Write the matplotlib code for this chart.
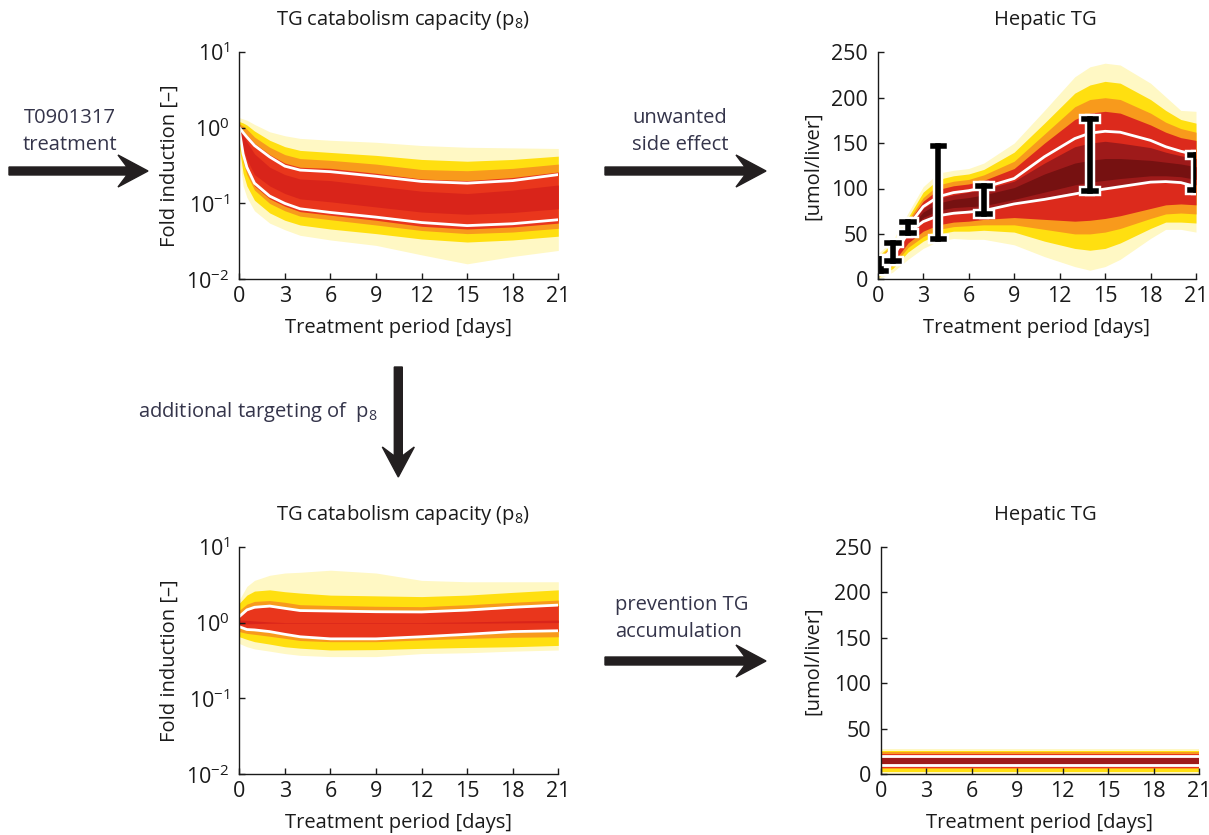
import matplotlib
matplotlib.use("Agg")
import matplotlib.pyplot as plt
from matplotlib.patches import FancyArrow
from matplotlib.ticker import NullLocator

plt.rcParams['font.family'] = ['Open Sans', 'DejaVu Sans']
plt.rcParams['mathtext.fontset'] = 'custom'
plt.rcParams['mathtext.rm'] = 'Open Sans'
plt.rcParams['mathtext.it'] = 'Open Sans'
plt.rcParams['mathtext.bf'] = 'Open Sans'

# ---------------- data ----------------
x_ticks = [0, 3, 6, 9, 12, 15, 18, 21]
log_ticks = [1e-2, 1e-1, 1e0, 1e1]
lin_ticks = [0, 50, 100, 150, 200, 250]

# Top-left: TG catabolism capacity (p8), T0901317 treatment (fold induction)
tl_t = [0, 0.25, 0.5, 1, 2, 3, 4, 6, 9, 12, 15, 18, 21]
tl_outer_hi = [1.35, 1.3, 1.25, 1.1, 0.88, 0.78, 0.72, 0.68, 0.64, 0.58, 0.55, 0.54, 0.53]
tl_yel_hi = [1.2, 1.15, 1.08, 0.9, 0.68, 0.56, 0.5, 0.47, 0.43, 0.38, 0.36, 0.38, 0.42]
tl_org_hi = [1.12, 1.05, 0.95, 0.75, 0.55, 0.44, 0.39, 0.37, 0.33, 0.28, 0.27, 0.29, 0.33]
tl_red_hi = [1.0, 0.9, 0.8, 0.62, 0.44, 0.34, 0.3, 0.29, 0.25, 0.21, 0.2, 0.22, 0.26]
tl_core_hi = [1.0, 0.8, 0.65, 0.45, 0.3, 0.24, 0.21, 0.2, 0.17, 0.145, 0.135, 0.15, 0.175]
tl_core_lo = [0.9, 0.55, 0.38, 0.24, 0.17, 0.135, 0.115, 0.105, 0.09, 0.077, 0.072, 0.076, 0.085]
tl_red_lo = [0.88, 0.4, 0.27, 0.17, 0.115, 0.092, 0.078, 0.07, 0.06, 0.05, 0.046, 0.049, 0.055]
tl_org_lo = [0.7, 0.35, 0.24, 0.15, 0.1, 0.08, 0.068, 0.061, 0.052, 0.044, 0.04, 0.042, 0.047]
tl_yel_lo = [0.55, 0.25, 0.17, 0.11, 0.075, 0.06, 0.052, 0.046, 0.04, 0.034, 0.031, 0.033, 0.037]
tl_outer_lo = [0.42, 0.17, 0.12, 0.08, 0.055, 0.045, 0.038, 0.033, 0.028, 0.021, 0.016, 0.02, 0.024]
tl_white_hi = [1.0, 0.86, 0.75, 0.58, 0.41, 0.31, 0.275, 0.262, 0.228, 0.195, 0.185, 0.2, 0.24]
tl_white_lo = [0.92, 0.45, 0.3, 0.185, 0.125, 0.1, 0.085, 0.076, 0.066, 0.056, 0.051, 0.054, 0.061]

# Top-right: Hepatic TG under T0901317 (umol/liver)
tr_t = [0, 1, 2, 3, 4, 5, 6, 7, 9, 11, 13, 14, 15, 16, 18, 19, 20, 21]
tr_outer_hi = [28, 43, 73, 102, 117, 120, 122, 128, 150, 186, 223, 234, 238, 236, 216, 201, 186, 185]
tr_yel_hi = [25, 40, 68, 96, 110, 114, 116, 121, 140, 172, 205, 214, 218, 216, 198, 186, 176, 172]
tr_org_hi = [23, 38, 65, 90, 104, 108, 110, 115, 130, 160, 190, 198, 200, 198, 183, 173, 166, 162]
tr_red_hi = [21, 36, 62, 86, 99, 103, 105, 109, 122, 150, 176, 183, 185, 183, 170, 162, 156, 153]
tr_core_hi = [15, 32, 56, 78, 89, 93, 96, 99, 108, 128, 146, 150, 152, 150, 145, 140, 136, 133]
tr_deep_hi = [13, 30, 55, 74, 84, 88, 90, 93, 101, 116, 128, 131, 133, 133, 131, 129, 127, 124]
tr_deep_lo = [11, 28, 52, 68, 76, 79, 80, 81, 88, 96, 104, 107, 109, 111, 114, 114, 113, 110]
tr_core_lo = [10, 26, 50, 65, 72, 75, 76, 77, 84, 90, 96, 99, 101, 103, 108, 109, 108, 104]
tr_red_lo = [6, 18, 40, 53, 60, 63, 64, 66, 68, 66, 64, 65, 67, 70, 78, 82, 83, 82]
tr_org_lo = [4, 15, 35, 47, 55, 58, 59, 60, 60, 55, 50, 50, 52, 56, 67, 72, 73, 72]
tr_yel_lo = [2, 12, 30, 42, 50, 53, 53, 54, 52, 42, 34, 32, 34, 40, 56, 63, 63, 62]
tr_outer_lo = [0, 8, 22, 34, 42, 45, 44, 44, 38, 25, 14, 10, 14, 22, 45, 55, 55, 52]
tr_white_hi = [17, 34, 58, 80, 91, 95.5, 97.6, 101, 111, 135, 155, 161, 163, 162, 153, 146, 141, 137]
tr_white_lo = [9, 25, 51, 63.5, 70, 72.7, 74, 75.6, 83, 88, 94, 97, 99.5, 102, 107, 107.6, 106.5, 102]

# measured hepatic TG (error bars)
eb_t = [0.2, 1, 2, 4, 7, 14, 21]
eb_lo = [9.5, 20.5, 51, 44, 72, 97.6, 98]
eb_hi = [22, 39.6, 63, 147, 103, 176.6, 137]

# Bottom-left: p8 with additional targeting
bl_t = [0, 0.5, 1, 2, 3, 4, 6, 9, 12, 15, 18, 21]
bl_outer_hi = [2.0, 3.0, 3.6, 4.2, 4.5, 4.6, 4.9, 4.5, 3.6, 3.45, 3.45, 3.45]
bl_yel_hi = [1.8, 2.3, 2.6, 2.7, 2.55, 2.45, 2.3, 2.25, 2.2, 2.3, 2.5, 2.7]
bl_org_hi = [1.45, 1.75, 1.9, 1.95, 1.85, 1.72, 1.68, 1.64, 1.62, 1.72, 1.85, 1.98]
bl_red_hi = [1.2, 1.45, 1.57, 1.62, 1.52, 1.43, 1.41, 1.38, 1.37, 1.44, 1.57, 1.68]
bl_core_hi = [1.08, 1.07, 1.05, 1.02, 1.0, 1.0, 1.0, 1.0, 1.0, 1.02, 1.05, 1.08]
bl_core_lo = [0.95, 0.96, 0.97, 0.98, 0.98, 0.98, 0.98, 0.98, 0.98, 0.98, 0.99, 1.0]
bl_red_lo = [0.86, 0.8, 0.79, 0.75, 0.69, 0.64, 0.6, 0.6, 0.64, 0.69, 0.75, 0.77]
bl_org_lo = [0.76, 0.72, 0.7, 0.66, 0.62, 0.58, 0.56, 0.56, 0.59, 0.62, 0.64, 0.65]
bl_yel_lo = [0.65, 0.6, 0.56, 0.52, 0.48, 0.46, 0.435, 0.44, 0.457, 0.47, 0.48, 0.5]
bl_outer_lo = [0.53, 0.48, 0.45, 0.42, 0.39, 0.37, 0.356, 0.356, 0.39, 0.4, 0.42, 0.435]
bl_white_hi = [1.2, 1.47, 1.59, 1.65, 1.54, 1.44, 1.42, 1.39, 1.38, 1.46, 1.59, 1.70]
bl_white_lo = [0.88, 0.81, 0.80, 0.76, 0.70, 0.65, 0.61, 0.61, 0.65, 0.70, 0.76, 0.78]

# Bottom-right: Hepatic TG with additional targeting (constant)
br_t = [0, 21]
br_outer_hi = [27.5, 27.5]
br_yel_hi = [26, 26]
br_org_hi = [24.2, 24.2]
br_red_hi = [22.4, 22.4]
br_core_hi = [17.8, 17.8]
br_core_lo = [11, 11]
br_red_lo = [7.3, 7.3]
br_org_lo = [5.5, 5.5]
br_yel_lo = [2.9, 2.9]
br_outer_lo = [0.7, 0.7]
br_white_hi = [19.6, 19.6]
br_white_lo = [10.1, 10.1]

# ---------------- styling ----------------
C_PALE = '#fff8c4'
C_YEL = '#ffdf10'
C_ORG = '#f89a1c'
C_RED = '#e9361c'
C_CORE_L = '#d9241a'
C_CORE_D = '#9e1a1a'
C_DEEP = '#761111'
TXT = '#34344a'
INK = '#1a1a1a'
FS = 14.5
TFS = 15.5

W, H = 1209, 835
fig = plt.figure(figsize=(W / 100, H / 100), dpi=100)


def ax_at(x0, x1, ytop, ybot):
    return fig.add_axes([x0 / W, 1 - ybot / H, (x1 - x0) / W, (ybot - ytop) / H])


def style(ax, log):
    ax.spines['top'].set_visible(False)
    ax.spines['right'].set_visible(False)
    for s in ('left', 'bottom'):
        ax.spines[s].set_linewidth(1.0)
        ax.spines[s].set_color(INK)
    ax.set_xlim(0, 21)
    ax.set_xticks(x_ticks)
    ax.set_xticklabels([str(v) for v in x_ticks])
    if log:
        ax.set_yscale('log')
        ax.set_ylim(1e-2, 1e1)
        ax.set_yticks(log_ticks)
        ax.set_yticklabels([r'$10^{-2}$', r'$10^{-1}$', r'$10^{0}$', r'$10^{1}$'])
        ax.yaxis.set_minor_locator(NullLocator())
    else:
        ax.set_ylim(0, 250)
        ax.set_yticks(lin_ticks)
        ax.set_yticklabels([str(v) for v in lin_ticks])
    ax.tick_params(direction='in', length=4, width=1.0, labelsize=TFS, colors=INK)
    ax.tick_params(axis='x', pad=5)
    ax.tick_params(axis='y', pad=7)
    ax.set_xlabel('Treatment period [days]', fontsize=FS, color=INK)
    ax.xaxis.label.set_va('center')


def bands(ax, t, levels, whites):
    for lo, hi, c in levels:
        ax.fill_between(t, lo, hi, color=c, linewidth=0)
    for w in whites:
        ax.plot(t, w, color='white', lw=2.0, solid_capstyle='round')


# Top-left
ax1 = ax_at(239.3, 558.3, 51.7, 279.3)
style(ax1, True)
bands(ax1, tl_t, [(tl_outer_lo, tl_outer_hi, C_PALE), (tl_yel_lo, tl_yel_hi, C_YEL),
                  (tl_org_lo, tl_org_hi, C_ORG), (tl_red_lo, tl_red_hi, C_RED),
                  (tl_core_lo, tl_core_hi, C_CORE_L)], [tl_white_hi, tl_white_lo])

# Top-right
ax2 = ax_at(877.7, 1196, 52.3, 279.3)
style(ax2, False)
bands(ax2, tr_t, [(tr_outer_lo, tr_outer_hi, C_PALE), (tr_yel_lo, tr_yel_hi, C_YEL),
                  (tr_org_lo, tr_org_hi, C_ORG), (tr_red_lo, tr_red_hi, '#dc2a1c'),
                  (tr_core_lo, tr_core_hi, C_CORE_D), (tr_deep_lo, tr_deep_hi, C_DEEP)],
      [tr_white_hi, tr_white_lo])
cap = 0.38
for t, lo, hi in zip(eb_t, eb_lo, eb_hi):
    for col, lw in (('white', 7.5), ('black', 4.0)):
        ax2.plot([t, t], [lo, hi], color=col, lw=lw, solid_capstyle='projecting')
        ax2.plot([t - cap, t + cap], [lo, lo], color=col, lw=lw, solid_capstyle='projecting')
        ax2.plot([t - cap, t + cap], [hi, hi], color=col, lw=lw, solid_capstyle='projecting')

# Bottom-left
ax3 = ax_at(239.3, 558.3, 546.7, 774.3)
style(ax3, True)
bands(ax3, bl_t, [(bl_outer_lo, bl_outer_hi, C_PALE), (bl_yel_lo, bl_yel_hi, C_YEL),
                  (bl_org_lo, bl_org_hi, C_ORG), (bl_red_lo, bl_red_hi, C_RED),
                  (bl_core_lo, bl_core_hi, C_CORE_L)], [bl_white_hi, bl_white_lo])

# Bottom-right
ax4 = ax_at(881, 1199, 546.7, 774.3)
style(ax4, False)
bands(ax4, br_t, [(br_outer_lo, br_outer_hi, C_PALE), (br_yel_lo, br_yel_hi, C_YEL),
                  (br_org_lo, br_org_hi, C_ORG), (br_red_lo, br_red_hi, C_RED),
                  (br_core_lo, br_core_hi, C_CORE_D)], [br_white_hi, br_white_lo])

for ax, x0, x1, yt, yb, ylab, title, tx, ylx in (
        (ax1, 239.3, 558.3, 51.7, 279.3, 'Fold induction [\u2013]', r'TG catabolism capacity (p$_8$)', 402.5, 170),
        (ax2, 877.7, 1196, 52.3, 279.3, '[umol/liver]', 'Hepatic TG', 1045.8, 813),
        (ax3, 239.3, 558.3, 546.7, 774.3, 'Fold induction [\u2013]', r'TG catabolism capacity (p$_8$)', 402.5, 170),
        (ax4, 881, 1199, 546.7, 774.3, '[umol/liver]', 'Hepatic TG', 1045.8, 813)):
    xw, yh = x1 - x0, yb - yt
    ax.xaxis.set_label_coords(((x0 + x1) / 2 - x0) / xw, -49 / yh)
    ax.set_ylabel(ylab, fontsize=FS, color=INK)
    ax.yaxis.label.set_va('center')
    ax.yaxis.set_label_coords((ylx - x0) / xw, 0.5)
    ty = yt - 32
    ax.text((tx - x0) / xw, (yb - ty) / yh, title, transform=ax.transAxes,
            ha='center', va='center', fontsize=FS, color=INK)


# arrows and annotation text (pixel layout -> inches)
def P(x, y):
    return x / 100, (H - y) / 100


def arrow(x0, y0, x1, y1):
    ax_, ay_ = P(x0, y0)
    bx_, by_ = P(x1, y1)
    a = FancyArrow(ax_, ay_, bx_ - ax_, by_ - ay_, width=0.08, head_width=0.32,
                   head_length=0.30, length_includes_head=True, overhang=0.3,
                   color='#231f20', transform=fig.dpi_scale_trans)
    fig.add_artist(a)


arrow(9, 171, 148, 171)
arrow(605, 171, 766, 171)
arrow(398.3, 367, 398.3, 477)
arrow(605, 661, 766, 661)


def note(x, y, s, ha='center'):
    fig.text(x / W, 1 - y / H, s, ha=ha, va='center', fontsize=FS, color=TXT)


note(70, 118, 'T0901317')
note(70, 145, 'treatment')
note(680, 118, 'unwanted')
note(680, 145, 'side effect')
note(378, 412, r'additional targeting of  p$_8$', ha='right')
note(615, 605, 'prevention TG', ha='left')
note(615, 632, 'accumulation', ha='left')

fig.savefig('out.png', dpi=100)
